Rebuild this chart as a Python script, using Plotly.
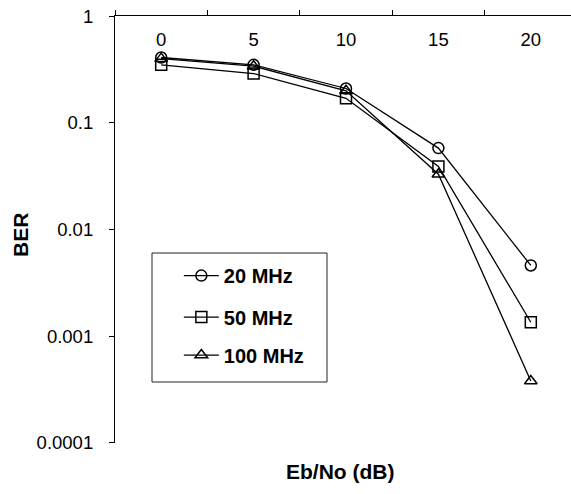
import plotly.graph_objects as go

x_labels = ["0", "5", "10", "15", "20"]
ber_20 = [0.41, 0.35, 0.21, 0.058, 0.0046]
ber_50 = [0.35, 0.29, 0.17, 0.039, 0.00135]
ber_100 = [0.40, 0.34, 0.20, 0.033, 0.00038]
names = ["20 MHz", "50 MHz", "100 MHz"]
symbols = ["circle-open", "square-open", "triangle-up-open"]
y_ticks = [1, 0.1, 0.01, 0.001, 0.0001]
y_tick_text = ["1", "0.1", "0.01", "0.001", "0.0001"]

legend_ids = ["legend", "legend2", "legend3"]
legend_y = [0.392, 0.295, 0.206]

fig = go.Figure()
for name, vals, sym, lid in zip(names, [ber_20, ber_50, ber_100], symbols, legend_ids):
    fig.add_trace(go.Scatter(
        x=x_labels, y=vals, name=name, mode="lines+markers",
        line=dict(color="black", width=1.3),
        marker=dict(symbol=sym, size=11, color="black", line=dict(width=1.5, color="black")),
        legend=lid,
    ))

leg_font = dict(size=20, family="Liberation Sans, Arial, sans-serif", color="black", weight="bold")
leg_common = dict(xanchor="left", yanchor="middle", bgcolor="rgba(0,0,0,0)",
                  borderwidth=0, font=leg_font, itemwidth=35)

fig.update_layout(
    width=571, height=494,
    margin=dict(l=115, r=0, t=16, b=51),
    plot_bgcolor="white", paper_bgcolor="white",
    font=dict(family="Liberation Sans, Arial, sans-serif", color="black", size=18),
    showlegend=True,
    legend=dict(x=0.14, y=legend_y[0], **leg_common),
    legend2=dict(x=0.14, y=legend_y[1], **leg_common),
    legend3=dict(x=0.14, y=legend_y[2], **leg_common),
    shapes=[dict(type="rect", xref="paper", yref="paper",
                 x0=(152 - 115) / 456, x1=(327 - 115) / 456,
                 y0=(443 - 382) / 427, y1=(443 - 253) / 427,
                 line=dict(color="#222", width=1), fillcolor="rgba(0,0,0,0)", layer="below")],
    annotations=[
        dict(text="<b>Eb/No (dB)</b>", x=(340 - 115) / 456, y=-0.035, xref="paper", yref="paper",
             xanchor="center", yanchor="top", showarrow=False, font=dict(size=21)),
        dict(text="<b>BER</b>", x=(20 - 115) / 456, y=(443 - 235) / 427, xref="paper", yref="paper",
             xanchor="center", yanchor="middle", textangle=-90, showarrow=False, font=dict(size=21)),
    ],
)
fig.update_xaxes(
    type="category", side="top", range=[-0.5, 4.435],
    showline=True, linecolor="black", linewidth=1.2,
    ticks="outside", tickson="boundaries", ticklen=5, tickcolor="black",
    ticklabelposition="outside", ticklabelstandoff=-38, showgrid=False, zeroline=False,
    tickfont=dict(size=18.5),
)
fig.update_yaxes(
    type="log", range=[-4.002, 0.002],
    tickvals=y_ticks, ticktext=y_tick_text,
    showline=True, linecolor="black", linewidth=1.2,
    ticks="outside", ticklen=5, tickcolor="black", ticklabelstandoff=12,
    showgrid=False, zeroline=False, tickfont=dict(size=18.5),
)
fig.write_html("out.html")
